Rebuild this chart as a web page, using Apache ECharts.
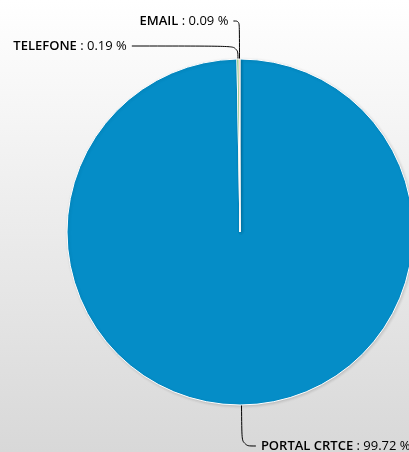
<!DOCTYPE html>
<html>
<head>
<meta charset="utf-8">
<script src="https://cdn.jsdelivr.net/npm/echarts@6/dist/echarts.min.js"></script>
<style>
html,body{margin:0;padding:0;width:409px;height:452px;overflow:hidden;}
#chart{width:409px;height:452px;}
</style>
</head>
<body>
<div id="chart"></div>
<script>
var categories = ['PORTAL CRTCE', 'TELEFONE', 'EMAIL'];
var values = [99.72, 0.19, 0.09];
var colors = ['#058DC7', '#50B432', '#ED561B'];
var lineLengths = [41, 13, 38];
var lineLengths2 = [14, 106, 6];

var chart = echarts.init(document.getElementById('chart'), null, {renderer: 'canvas'});
var data = categories.map(function (c, i) {
  return {
    name: c,
    value: values[i],
    itemStyle: {color: colors[i]},
    labelLine: {length: lineLengths[i], length2: lineLengths2[i]}
  };
});
chart.setOption({
  backgroundColor: {
    type: 'linear', x: 0, y: 0, x2: 0, y2: 1,
    colorStops: [{offset: 0, color: '#ffffff'}, {offset: 1, color: '#d8d8d8'}]
  },
  animation: false,
  series: [{
    type: 'pie',
    center: [240, 232],
    radius: 173,
    startAngle: 90,
    clockwise: true,
    avoidLabelOverlap: false,
    minShowLabelAngle: 0,
    itemStyle: {
      borderColor: '#ffffff',
      borderWidth: 1,
      shadowBlur: 3,
      shadowColor: 'rgba(0,0,0,0.15)',
      shadowOffsetX: 1,
      shadowOffsetY: 1
    },
    label: {
      show: true,
      position: 'outside',
      formatter: function (p) { return '{b|' + p.name + '} : ' + p.value.toFixed(2) + ' %'; },
      fontFamily: 'Open Sans',
      fontSize: 13,
      color: '#000000',
      distanceToLabelLine: 5,
      rich: {
        b: {fontWeight: 600, fontFamily: 'Open Sans', fontSize: 13, color: '#000000'}
      }
    },
    labelLine: {
      show: true,
      smooth: 0.4,
      lineStyle: {color: '#000000', width: 1}
    },
    emphasis: {disabled: true},
    data: data
  }]
});
</script>
</body>
</html>
